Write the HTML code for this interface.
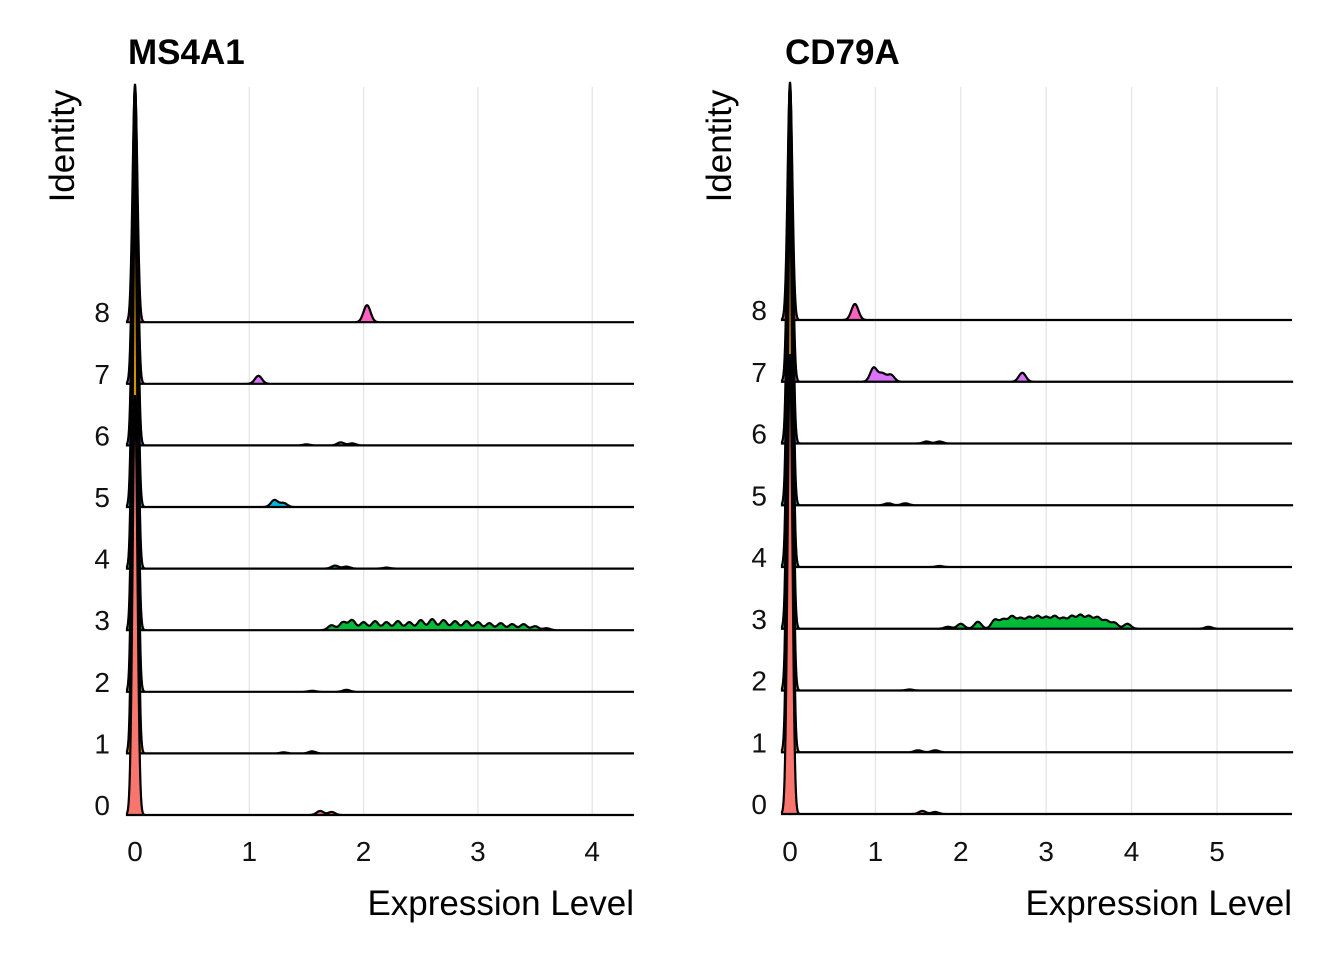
<!DOCTYPE html>
<html><head><meta charset="utf-8"><style>
body{margin:0;background:#fff;}
svg text{font-family:"Liberation Sans",sans-serif;}
</style></head><body>
<svg id="c" width="1344" height="960" xmlns="http://www.w3.org/2000/svg"></svg>
<script>
const clusters = ["0","1","2","3","4","5","6","7","8"];
const colors = ["#F8766D","#D39200","#93AA00","#00BA38","#00C19F","#00B9E3","#619CFF","#DB72FB","#FF61C3"];
const ms4a1Spike = [420,560,540,500,470,420,360,300,235];
const ms4a1Bumps = [
 [[1.62,4],[1.72,3]],
 [[1.3,1],[1.55,2]],
 [[1.55,1],[1.85,2]],
 [[1.72,5],[1.82,8],[1.9,10],[2.0,8],[2.1,9],[2.2,8],[2.3,9],[2.4,8],[2.5,10],[2.6,11],[2.7,10],[2.8,9],[2.9,9],[3.0,8],[3.1,7],[3.2,7],[3.3,6],[3.4,6],[3.5,4],[3.6,2]],
 [[1.75,3],[1.85,2],[2.2,1]],
 [[1.22,7],[1.3,4]],
 [[1.8,3],[1.9,2],[1.5,1]],
 [[1.08,8]],
 [[2.03,17]]
];
const ms4a1Ticks = [0,1,2,3,4];
const cd79aSpike = [460,560,540,500,470,420,360,300,235];
const cd79aBumps = [
 [[1.55,3],[1.7,2]],
 [[1.5,2],[1.7,2]],
 [[1.4,1]],
 [[1.85,2],[2.0,5],[2.2,7],[2.4,9],[2.5,9],[2.6,12],[2.7,10],[2.8,11],[2.9,12],[3.0,11],[3.1,12],[3.2,10],[3.3,12],[3.4,13],[3.5,12],[3.6,11],[3.7,8],[3.8,6],[3.95,5],[4.9,2]],
 [[1.75,1]],
 [[1.15,2],[1.35,2]],
 [[1.6,2],[1.75,2]],
 [[0.98,14],[1.08,8],[1.18,7],[2.72,9]],
 [[0.76,16]]
];
const cd79aTicks = [0,1,2,3,4,5];

const svg = document.getElementById('c');
const NS = "http://www.w3.org/2000/svg";
function el(tag, attrs, parent){const e=document.createElementNS(NS,tag);for(const k in attrs)e.setAttribute(k,attrs[k]);(parent||svg).appendChild(e);return e;}

function panel(name, title, x0, pxPerUnit, xmaxPx, xminPx, base0, spacing, spikes, bumps, ticks, titleX, idX){
  const g = el('g',{});
  
  
  const xs = v => x0 + v*pxPerUnit;
  const ys = i => base0 - i*spacing;
  ticks.forEach(t=>{
    const l = el('line',{x1:xs(t),x2:xs(t),y1:87,y2:816,stroke:'#e3e3e3','stroke-width':1.2},g);
    
    
    const tx = el('text',{x:xs(t),y:861,'font-size':28,'text-anchor':'middle',fill:'#111'},g);
    tx.textContent = t;
    
    
  });
  const sd0 = 2.4/pxPerUnit;
  for(let i=clusters.length-1;i>=0;i--){
    const b = ys(i);
    const pts=[];
    for(let px=xminPx; px<=xmaxPx; px+=0.5){
      const v=(px-x0)/pxPerUnit;
      let h = spikes[i]*Math.exp(-0.5*Math.pow(v/sd0,2));
      bumps[i].forEach(bb=>{ h += bb[1]*Math.exp(-0.5*Math.pow((px-xs(bb[0]))/3.5,2)); });
      pts.push([px, b-h]);
    }
    const d = 'M'+xminPx+','+b+' '+pts.map(p=>'L'+p[0]+','+p[1].toFixed(1)).join(' ')+' L'+xmaxPx+','+b+'Z';
    const p = el('path',{d:d,fill:colors[i],stroke:'#000','stroke-width':2.2},g);
    
    
  }
  for(let i=0;i<clusters.length;i++){
    const lb = el('text',{x:idX,y:ys(i)-0,'font-size':28,'text-anchor':'end',fill:'#111'},g);
    lb.textContent = clusters[i];
    
    
  }
  const t = el('text',{x:titleX,y:64,'font-size':35,'font-weight':'bold',fill:'#000'},g);
  t.textContent = title;
  
  
  const xt = el('text',{x:xmaxPx,y:915,'font-size':35,'text-anchor':'end',fill:'#000'},g);
  xt.textContent='Expression Level';
  
  
  const yt = el('text',{x:0,y:0,'font-size':35,'text-anchor':'middle',fill:'#000',transform:'translate('+(titleX-54)+',146) rotate(-90)'},g);
  yt.textContent='Identity';
  
  
}
panel('ms4a1','MS4A1',135,114.3,634,127,815,61.6,ms4a1Spike,ms4a1Bumps,ms4a1Ticks,128,110);
panel('cd79a','CD79A',790,85.4,1292,782,814,61.75,cd79aSpike,cd79aBumps,cd79aTicks,785,767);
</script>
</body></html>
